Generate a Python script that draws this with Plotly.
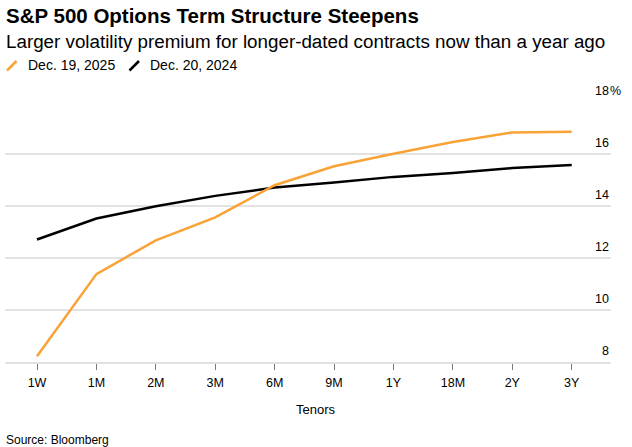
import plotly.graph_objects as go

tenors = ["1W", "1M", "2M", "3M", "6M", "9M", "1Y", "18M", "2Y", "3Y"]
dec_2025 = [8.22, 11.38, 12.68, 13.56, 14.80, 15.53, 16.01, 16.46, 16.83, 16.86]
dec_2024 = [12.71, 13.52, 13.99, 14.39, 14.71, 14.90, 15.12, 15.27, 15.46, 15.58]
y_ticks = [8, 10, 12, 14, 16, 18]

ORANGE = "#f9a236"
BLACK = "#000000"
GRID = "#e2e2e2"
FONT = "Liberation Sans"

W, H = 632, 447
L, R, T, B = 5, 21, 102, 85
PW, PH = W - L - R, H - T - B


def px(x):
    return (x - L) / PW


def py(y):
    return (H - B - y) / PH


fig = go.Figure()
fig.add_trace(go.Scatter(x=tenors, y=dec_2024, mode="lines", name="Dec. 20, 2024",
                         line=dict(color=BLACK, width=2.5), showlegend=False))
fig.add_trace(go.Scatter(x=tenors, y=dec_2025, mode="lines", name="Dec. 19, 2025",
                         line=dict(color=ORANGE, width=2.5), showlegend=False))

annotations = [
    dict(text="<b>S&P 500 Options Term Structure Steepens</b>", x=px(4), y=py(15),
         font=dict(size=20.5, color="#000", family=FONT)),
    dict(text="Larger volatility premium for longer-dated contracts now than a year ago",
         x=px(4), y=py(42), font=dict(size=18.8, color="#000", family=FONT)),
    dict(text="Dec. 19, 2025", x=px(26), y=py(65), font=dict(size=14, color="#000", family=FONT)),
    dict(text="Dec. 20, 2024", x=px(148), y=py(65), font=dict(size=14, color="#000", family=FONT)),
    dict(text="Tenors", x=px(316), y=py(409), xanchor="center",
         font=dict(size=13, color="#000", family=FONT)),
    dict(text="Source: Bloomberg", x=px(4), y=py(440), font=dict(size=12, color="#000", family=FONT)),
]
for a in annotations:
    a.update(xref="paper", yref="paper", showarrow=False, yanchor="middle")
    a.setdefault("xanchor", "left")

for v in y_ticks:
    annotations.append(dict(text=str(v), x=1, xref="paper", y=v, yref="y",
                            xanchor="right", yanchor="bottom", yshift=2, showarrow=False,
                            font=dict(size=12.5, color="#000", family=FONT)))
annotations.append(dict(text="%", x=1, xref="paper", y=y_ticks[-1], yref="y",
                        xanchor="left", yanchor="bottom", yshift=2, xshift=-3, showarrow=False,
                        font=dict(size=12.5, color="#000", family=FONT)))

shapes = [
    dict(type="line", xref="paper", yref="paper", x0=px(7), y0=py(70.5), x1=px(16.5), y1=py(61),
         line=dict(color=ORANGE, width=2.5)),
    dict(type="line", xref="paper", yref="paper", x0=px(129.5), y0=py(70.5), x1=px(139), y1=py(61),
         line=dict(color=BLACK, width=2.5)),
]

# x range: 1W at x=37, 3Y at 571.7 -> spacing 59.4
sp = (571.7 - 37) / 9
x_lo = (L - 37) / sp
x_hi = 9 + (611 - 571.7) / sp

fig.update_layout(
    width=W, height=H,
    margin=dict(l=L, r=R, t=T, b=B, pad=0),
    paper_bgcolor="white", plot_bgcolor="white",
    font=dict(family=FONT, color="#000"),
    annotations=annotations, shapes=shapes,
    hovermode=False,
    xaxis=dict(type="category", range=[x_lo, x_hi], showgrid=False, zeroline=False,
               showline=True, linecolor=GRID, linewidth=1.5,
               ticks="outside", ticklen=6, tickwidth=1, tickcolor="#777",
               ticklabelstandoff=2,
               tickfont=dict(size=12.5, color="#000", family=FONT)),
    yaxis=dict(range=[8, 18], tickvals=y_ticks, showticklabels=False, showgrid=True,
               gridcolor=GRID, gridwidth=1.5, zeroline=False, showline=False, ticks=""),
)

fig.write_html("out.html", config={"displayModeBar": False},
               post_script="document.body.style.margin='0';")
